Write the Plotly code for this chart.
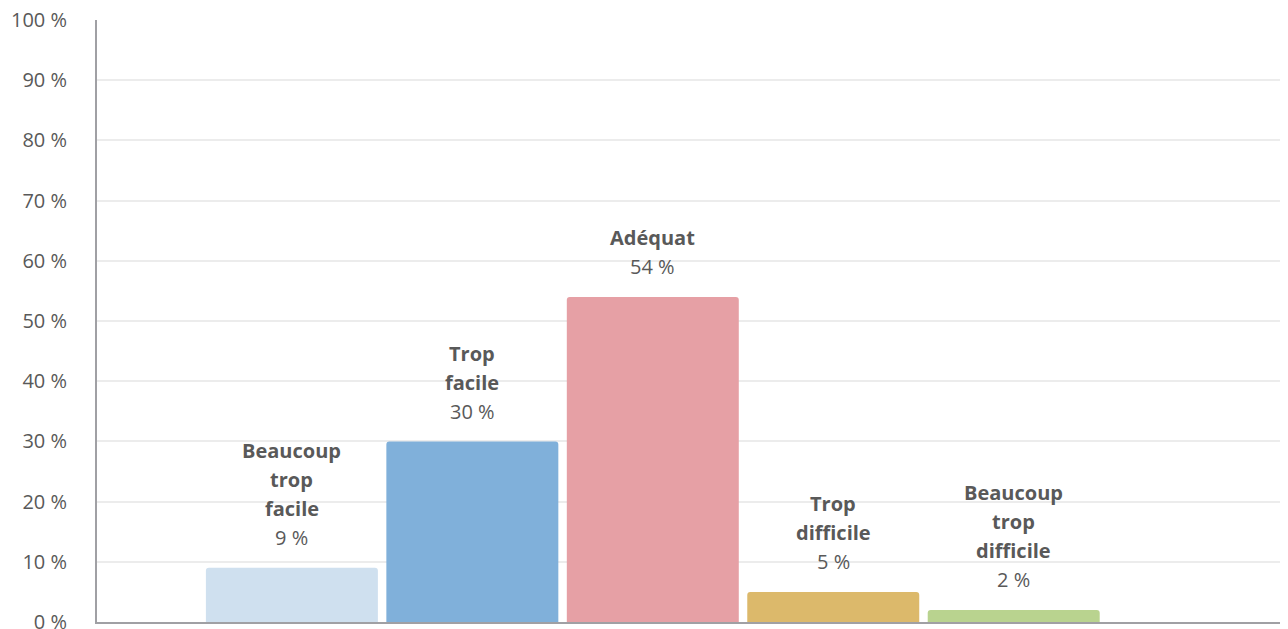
import plotly.graph_objects as go

categories = ["Beaucoup trop facile", "Trop facile", "Adéquat", "Trop difficile", "Beaucoup trop difficile"]
label_lines = [["Beaucoup", "trop", "facile"], ["Trop", "facile"], ["Adéquat"], ["Trop", "difficile"], ["Beaucoup", "trop", "difficile"]]
values = [9, 30, 54, 5, 2]
colors = ["#cfe0ef", "#80b0da", "#e6a0a5", "#dcb96b", "#b9d38f"]
y_ticks = list(range(0, 101, 10))
y_tick_labels = [f"{v}\u00a0%" for v in y_ticks]

FONT = "Open Sans"
TXT = "#595959"

x = list(range(len(categories)))
fig = go.Figure(go.Bar(
    x=x, y=values, width=0.953, marker=dict(color=colors, line=dict(width=0)),
    hovertext=categories, hoverinfo="text+y",
))

annotations = []
LINE = 29
for xi, v, lines in zip(x, values, label_lines):
    annotations.append(dict(x=xi, y=v, xref="x", yref="y", text=f"{v}\u00a0%", showarrow=False,
                            yshift=30, font=dict(family=FONT, size=20, color=TXT)))
    for k, ln in enumerate(reversed(lines)):
        annotations.append(dict(x=xi, y=v, xref="x", yref="y", text=f"<b>{ln}</b>", showarrow=False,
                                yshift=30 + LINE * (k + 1), font=dict(family=FONT, size=20, color=TXT)))

fig.update_layout(
    width=1280, height=621,
    margin=dict(l=89, r=0, t=12, b=7),
    paper_bgcolor="white", plot_bgcolor="white",
    showlegend=False,
    barcornerradius=3,
    font=dict(family=FONT, size=20, color=TXT),
    annotations=annotations,
    xaxis=dict(range=[-1.08, 5.52], showticklabels=False, showgrid=False, zeroline=False,
               showline=True, linecolor="#a0a0a4", linewidth=2, ticks="", automargin=False),
    yaxis=dict(range=[0, 100], tickvals=y_ticks, ticktext=y_tick_labels,
               showgrid=True, gridcolor="#ececec", gridwidth=2, zeroline=False,
               showline=True, linecolor="#a0a0a4", linewidth=2, ticks="",
               ticklabeloverflow="allow", automargin=False,
               ticklabelstandoff=24, tickfont=dict(family=FONT, size=20, color=TXT)),
)

fig.write_html("out.html")
